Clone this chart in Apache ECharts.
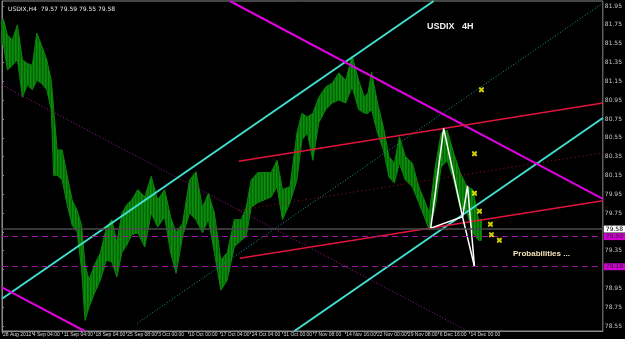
<!DOCTYPE html>
<html>
<head>
<meta charset="utf-8">
<script src="https://cdn.jsdelivr.net/npm/echarts@6/dist/echarts.min.js"></script>
<style>
html, body { margin: 0; padding: 0; background: #000; }
#chart { width: 625px; height: 339px; }
</style>
</head>
<body>
<div id="chart"></div>
<script>
// bar index (4H bars) of each price segment, with its high and low
const barStart = [0, 3, 8, 13, 18, 23, 28, 33, 37, 42, 48, 51, 53, 58, 63, 68, 73, 78, 82, 85,
  90, 96, 102, 108, 113, 118, 123, 128, 133, 140, 147, 153, 160, 167, 172, 178, 185, 192, 198, 205,
  210, 217, 223, 230, 237, 244, 247, 254, 260, 267, 274, 279, 285, 294, 299, 304, 310, 315, 322, 329,
  335, 342, 349, 355, 362, 367, 369, 374, 381, 386, 392, 397, 402, 409, 416, 422, 427, 432, 439, 444,
  451, 457, 464, 471, 476];
const barHigh = [81.81, 81.64, 81.59, 81.75, 81.38, 81.34, 81.32, 81.66, 81.54, 81.38, 81.16, 80.85, 80.42, 80.42, 80.15, 79.89, 79.78, 79.62, 79.20, 79.04,
  79.20, 79.33, 79.60, 79.68, 79.43, 79.75, 79.84, 79.89, 80.00, 79.92, 80.14, 79.89, 80.00, 79.71, 79.54, 79.64, 80.10, 80.19, 79.81, 79.96,
  79.75, 79.25, 79.33, 79.68, 79.68, 79.81, 80.10, 80.18, 80.18, 80.18, 80.31, 80.00, 80.03, 80.60, 80.81, 80.77, 80.81, 80.98, 81.09, 81.13,
  81.24, 81.16, 81.42, 81.16, 80.98, 81.03, 81.25, 80.92, 80.66, 80.35, 80.28, 80.56, 80.35, 80.28, 80.03, 79.89, 79.75, 80.24, 80.60, 80.63,
  80.39, 80.18, 80.03, 80.00, 79.68];
const barLow = [81.54, 81.27, 81.32, 81.38, 80.98, 81.11, 81.06, 81.16, 81.13, 81.06, 80.85, 80.15, 80.15, 80.10, 79.84, 79.62, 79.55, 79.15, 78.61, 78.75,
  78.90, 79.04, 79.25, 79.23, 79.07, 79.33, 79.41, 79.52, 79.54, 79.39, 79.75, 79.60, 79.71, 79.33, 79.11, 79.50, 79.75, 79.68, 79.54, 79.68,
  79.33, 78.93, 79.04, 79.39, 79.46, 79.50, 79.81, 79.86, 79.89, 79.92, 80.03, 79.68, 79.86, 80.10, 80.53, 80.60, 80.31, 80.71, 80.85, 80.92,
  80.95, 80.92, 81.09, 80.85, 80.81, 80.81, 80.85, 80.60, 80.42, 80.13, 80.07, 80.28, 80.10, 80.03, 79.86, 79.71, 79.57, 79.81, 80.24, 80.31,
  80.10, 79.81, 79.75, 79.54, 79.46];
const lastBar = 482;

const dateTicks = [0, 30, 61, 93, 125, 156, 187, 219, 250, 282, 313, 345, 376, 407, 439, 470];
const dateLabels = ['28 Aug 2012', '4 Sep 04:00', '11 Sep 04:00', '18 Sep 04:00', '25 Sep 08:00', '3 Oct 00:00',
  '10 Oct 00:00', '17 Oct 04:00', '24 Oct 04:00', '31 Oct 00:00', '7 Nov 08:00', '14 Nov 16:00',
  '22 Nov 00:00', '29 Nov 08:00', '6 Dec 16:00', '14 Dec 00:00'];
const priceTicks = [78.55, 78.75, 78.95, 79.15, 79.35, 79.55, 79.75, 79.95, 80.15, 80.35, 80.55,
  80.75, 80.95, 81.15, 81.35, 81.55, 81.75, 81.95];
const priceLabels = [78.55, 78.75, 78.95, 79.35, 79.75, 79.95, 80.15, 80.35, 80.55,
  80.75, 80.95, 81.15, 81.35, 81.55, 81.75, 81.95];

// trend lines [bar, price]
const cyanUpper = [[0, 78.84], [434, 82.003]];
const cyanLower = [[294, 78.497], [604, 80.76]];
const magentaUpper = [[229, 82.003], [604, 79.90]];
const magentaLower = [[0, 78.96], [83, 78.497]];
const magentaDotted = [[0, 81.11], [468, 78.497]];
const tealDotted = [[136, 78.58], [604, 81.98]];
const redUpper = [[238, 80.30], [604, 80.92]];
const redLower = [[239, 79.27], [604, 79.88]];
const redDotted = [[238, 79.78], [604, 80.39]];

// pattern points X A B C D
const patX = [431, 79.59], patA = [444, 80.65], patB = [463, 79.71], patC = [468, 80.04], patD = [475, 79.18];
const crosses = [[482, 81.06], [475, 80.38], [475, 79.96], [480, 79.77], [491, 79.63], [492, 79.52], [500, 79.46]];

const priceNow = 79.58;
const levels = [79.50, 79.18];

// 1px vertical stripes so the ribbon reads like packed bars
const stripes = document.createElement('canvas');
stripes.width = 3; stripes.height = 1;
const sctx = stripes.getContext('2d');
sctx.fillStyle = '#0b900b'; sctx.fillRect(0, 0, 1, 1);
sctx.fillStyle = '#087c08'; sctx.fillRect(1, 0, 1, 1);
sctx.fillStyle = '#056405'; sctx.fillRect(2, 0, 1, 1);

const chart = echarts.init(document.getElementById('chart'));

const seg = (data, color, width, type) => ({
  type: 'line', data: data, symbol: 'none', silent: true, clip: true,
  lineStyle: { color: color, width: width, type: type || 'solid' },
  z: 3
});

const option = {
  backgroundColor: '#000000',
  animation: false,
  title: {
    text: 'USDIX,H4  79.57 79.59 79.55 79.58',
    left: 3, top: 1,
    textStyle: { color: '#e8e8e8', fontSize: 6, fontWeight: 'normal', fontFamily: 'DejaVu Sans' }
  },
  grid: { left: 2, right: 19, top: 1, bottom: 8, show: true, borderColor: '#8a8a8a', borderWidth: 1 },
  xAxis: {
    type: 'value', min: 0, max: 604,
    axisLine: { show: true, lineStyle: { color: '#8a8a8a' } },
    axisTick: { show: true, customValues: dateTicks, length: 3, lineStyle: { color: '#8a8a8a' } },
    axisLabel: {
      customValues: dateTicks, showMinLabel: true,
      formatter: v => dateLabels[dateTicks.indexOf(v)] || '',
      align: 'left', fontSize: 5, color: '#d8d8d8', margin: 1, fontFamily: 'Liberation Sans', padding: [0, 0, 0, 1]
    },
    splitLine: { show: false }
  },
  yAxis: {
    type: 'value', position: 'right', min: 78.497, max: 82.003,
    axisLine: { show: true, lineStyle: { color: '#8a8a8a' } },
    axisTick: { show: true, customValues: priceTicks, length: 2, lineStyle: { color: '#8a8a8a' } },
    axisLabel: {
      customValues: priceLabels,
      formatter: v => v.toFixed(2),
      fontSize: 6, color: '#c8c8c8', margin: 2, fontFamily: 'DejaVu Sans'
    },
    splitLine: { show: false }
  },
  graphic: [
    { type: 'text', left: 427, top: 22, style: { text: 'USDIX   4H', fill: '#f0f0f0', font: 'bold 9px "Liberation Sans"' } },
    { type: 'text', left: 513, top: 250, style: { text: 'Probabilities ...', fill: '#f1e3b8', font: 'bold 8px "Liberation Sans"' } }
  ],
  series: [
    {
      // price as a high/low ribbon through each segment
      type: 'custom',
      data: [0],
      renderItem: (params, api) => {
        const n = barStart.length;
        const top = [], bottom = [];
        top.push(api.coord([0, barHigh[0]]));
        bottom.push(api.coord([0, barLow[0]]));
        for (let i = 0; i < n; i++) {
          const end = i < n - 1 ? barStart[i + 1] : lastBar;
          const mid = (barStart[i] + end) / 2;
          top.push(api.coord([mid, barHigh[i]]));
          bottom.push(api.coord([mid, barLow[i]]));
        }
        top.push(api.coord([lastBar, barHigh[n - 1]]));
        bottom.push(api.coord([lastBar, barLow[n - 1]]));
        return {
          type: 'polygon',
          shape: { points: top.concat(bottom.reverse()) },
          style: { fill: { image: stripes, repeat: 'repeat' }, stroke: '#0a840a', lineWidth: 1 }
        };
      },
      z: 2
    },
    seg(magentaDotted, '#9a169a', 1, [1, 2]),
    seg(tealDotted, '#1a9a9a', 1, [1, 2]),
    seg(redDotted, '#a01018', 1, [1, 3]),
    seg(cyanUpper, '#40e0d0', 2),
    seg(cyanLower, '#40e0d0', 2),
    seg(magentaUpper, '#e000e0', 2),
    seg(magentaLower, '#e000e0', 2),
    seg(redUpper, '#e0143c', 1.5),
    seg(redLower, '#e0143c', 1.5),
    {
      type: 'line', data: [], silent: true,
      markLine: {
        symbol: 'none', silent: true,
        data: [{ yAxis: priceNow }],
        lineStyle: { color: '#4a4a4a', width: 1.5, type: 'solid' },
        label: {
          position: 'end', distance: 1, formatter: () => priceNow.toFixed(2),
          backgroundColor: '#ffffff', color: '#000000', fontSize: 6, padding: [1, 2, 0, 2], fontFamily: 'DejaVu Sans'
        }
      },
      z: 1
    },
    {
      type: 'line', data: [], silent: true,
      markLine: {
        symbol: 'none', silent: true,
        data: levels.map(v => ({ yAxis: v })),
        lineStyle: { color: '#9a169a', width: 1, type: [6, 4] },
        label: {
          position: 'end', distance: 1, formatter: p => p.value.toFixed(2),
          backgroundColor: '#d000d0', color: '#222222', fontSize: 6, padding: [1, 2, 0, 2], fontFamily: 'DejaVu Sans'
        }
      },
      z: 1
    },
    seg([patX, patA, patB, patD], '#ffffff', 1.5),
    seg([patX, patB, patC, patD], '#ffffff', 1.5),
    {
      type: 'scatter', data: crosses, silent: true,
      symbol: 'path://M0,0 L3,0 L5,2 L7,0 L10,0 L10,3 L8,5 L10,7 L10,10 L7,10 L5,8 L3,10 L0,10 L0,7 L2,5 L0,3 Z',
      symbolSize: 5, itemStyle: { color: '#ffff00' }, z: 5
    }
  ]
};

chart.setOption(option);
</script>
</body>
</html>
